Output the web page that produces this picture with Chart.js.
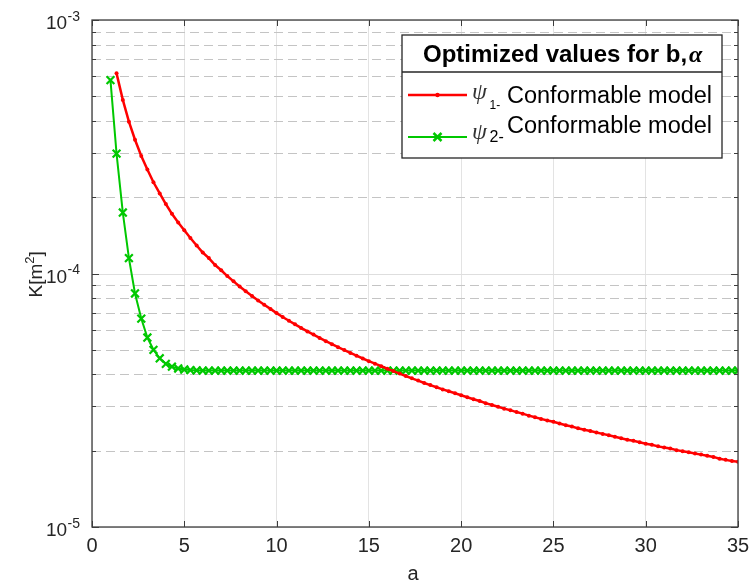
<!DOCTYPE html>
<html>
<head>
<meta charset="utf-8">
<script src="https://cdn.jsdelivr.net/npm/chart.js@4.4.1/dist/chart.umd.min.js"></script>
<style>
  html, body { margin: 0; padding: 0; background: #fff; }
  canvas { display: block; }
</style>
</head>
<body>
<canvas id="kChart" width="750" height="585"></canvas>
<script>
(function () {

// -------------------------------------------------------------------------------------------------------
// data

var aValues = [
    1, 1.33, 1.67, 2, 2.33, 2.67, 3, 3.33, 3.67, 4,
    4.33, 4.67, 5, 5.33, 5.67, 6, 6.33, 6.67, 7, 7.33,
    7.67, 8, 8.33, 8.67, 9, 9.33, 9.67, 10, 10.33, 10.67,
    11, 11.33, 11.67, 12, 12.33, 12.67, 13, 13.33, 13.67, 14,
    14.33, 14.67, 15, 15.33, 15.67, 16, 16.33, 16.67, 17, 17.33,
    17.67, 18, 18.33, 18.67, 19, 19.33, 19.67, 20, 20.33, 20.67,
    21, 21.33, 21.67, 22, 22.33, 22.67, 23, 23.33, 23.67, 24,
    24.33, 24.67, 25, 25.33, 25.67, 26, 26.33, 26.67, 27, 27.33,
    27.67, 28, 28.33, 28.67, 29, 29.33, 29.67, 30, 30.33, 30.67,
    31, 31.33, 31.67, 32, 32.33, 32.67, 33, 33.33, 33.67, 34,
    34.33, 34.67, 35
];

// psi_1 conformable model (starts at a = 1.33)
var psi1Values = [
    null,
    6.16e-4, 4.84e-4, 3.97e-4, 3.37e-4, 2.91e-4, 2.57e-4, 2.29e-4, 2.07e-4, 1.88e-4, 1.72e-4,
    1.59e-4, 1.48e-4, 1.38e-4, 1.29e-4, 1.21e-4, 1.15e-4, 1.08e-4, 1.03e-4, 9.77e-5, 9.31e-5,
    8.89e-5, 8.51e-5, 8.16e-5, 7.83e-5, 7.53e-5, 7.25e-5, 6.98e-5, 6.74e-5, 6.51e-5, 6.30e-5,
    6.10e-5, 5.91e-5, 5.74e-5, 5.57e-5, 5.41e-5, 5.26e-5, 5.12e-5, 4.99e-5, 4.86e-5, 4.74e-5,
    4.62e-5, 4.51e-5, 4.41e-5, 4.31e-5, 4.21e-5, 4.12e-5, 4.03e-5, 3.94e-5, 3.86e-5, 3.78e-5,
    3.70e-5, 3.63e-5, 3.56e-5, 3.49e-5, 3.43e-5, 3.37e-5, 3.31e-5, 3.25e-5, 3.19e-5, 3.14e-5,
    3.08e-5, 3.03e-5, 2.98e-5, 2.93e-5, 2.89e-5, 2.84e-5, 2.80e-5, 2.75e-5, 2.71e-5, 2.67e-5,
    2.63e-5, 2.60e-5, 2.56e-5, 2.52e-5, 2.49e-5, 2.45e-5, 2.42e-5, 2.39e-5, 2.36e-5, 2.33e-5,
    2.30e-5, 2.27e-5, 2.24e-5, 2.21e-5, 2.19e-5, 2.16e-5, 2.13e-5, 2.11e-5, 2.08e-5, 2.06e-5,
    2.04e-5, 2.01e-5, 1.99e-5, 1.97e-5, 1.95e-5, 1.93e-5, 1.91e-5, 1.89e-5, 1.86e-5, 1.84e-5,
    1.82e-5, 1.81e-5
];

// psi_2 conformable model
var psi2Values = [
    5.79e-4, 2.97e-4, 1.74e-4, 1.15e-4, 8.34e-5, 6.64e-5, 5.59e-5, 5.00e-5, 4.63e-5, 4.40e-5,
    4.29e-5, 4.22e-5, 4.18e-5, 4.16e-5, 4.15e-5, 4.14e-5, 4.14e-5, 4.14e-5, 4.14e-5, 4.14e-5,
    4.14e-5, 4.14e-5, 4.14e-5, 4.14e-5, 4.14e-5, 4.14e-5, 4.14e-5, 4.14e-5, 4.14e-5, 4.14e-5,
    4.14e-5, 4.14e-5, 4.14e-5, 4.14e-5, 4.14e-5, 4.14e-5, 4.14e-5, 4.14e-5, 4.14e-5, 4.14e-5,
    4.14e-5, 4.14e-5, 4.14e-5, 4.14e-5, 4.14e-5, 4.14e-5, 4.14e-5, 4.14e-5, 4.14e-5, 4.14e-5,
    4.14e-5, 4.14e-5, 4.14e-5, 4.14e-5, 4.14e-5, 4.14e-5, 4.14e-5, 4.14e-5, 4.14e-5, 4.14e-5,
    4.14e-5, 4.14e-5, 4.14e-5, 4.14e-5, 4.14e-5, 4.14e-5, 4.14e-5, 4.14e-5, 4.14e-5, 4.14e-5,
    4.14e-5, 4.14e-5, 4.14e-5, 4.14e-5, 4.14e-5, 4.14e-5, 4.14e-5, 4.14e-5, 4.14e-5, 4.14e-5,
    4.14e-5, 4.14e-5, 4.14e-5, 4.14e-5, 4.14e-5, 4.14e-5, 4.14e-5, 4.14e-5, 4.14e-5, 4.14e-5,
    4.14e-5, 4.14e-5, 4.14e-5, 4.14e-5, 4.14e-5, 4.14e-5, 4.14e-5, 4.14e-5, 4.14e-5, 4.14e-5,
    4.14e-5, 4.14e-5, 4.14e-5
];

var xTickValues = [0, 5, 10, 15, 20, 25, 30, 35];
var yDecades = [1e-5, 1e-4, 1e-3];
var yDecadeExps = ['-5', '-4', '-3'];
var yMinorSteps = [2, 3, 4, 5, 6, 7, 8, 9];

var legendTitle = 'Optimized values for b,';
var legendTitleSymbol = '\u03B1';
var seriesSymbol = '\u03C8';
var seriesSubs = ['1-', '2-'];
var seriesNames = ['Conformable model', 'Conformable model'];

var RED = '#ff0000';
var GREEN = '#00c800';
var TEXT = '#262626';
var SANS = '"Liberation Sans", Arial, sans-serif';
var SERIF = '"Liberation Serif", "DejaVu Serif", serif';

function toPoints(vals) {
    var pts = [];
    for (var i = 0; i < aValues.length; i++) {
        if (vals[i] !== null) pts.push({ x: aValues[i], y: vals[i] });
    }
    return pts;
}

// -------------------------------------------------------------------------------------------------------
// axes, grid and legend in a matlab-ish style

function line(ctx, x1, y1, x2, y2) {
    ctx.beginPath();
    ctx.moveTo(x1, y1);
    ctx.lineTo(x2, y2);
    ctx.stroke();
}

var matlabAxes = {
    id: 'matlabAxes',

    beforeDatasetsDraw: function (chart) {
        var ctx = chart.ctx, area = chart.chartArea, ys = chart.scales.y;
        ctx.save();
        ctx.lineWidth = 1;
        // minor log grid, dashed
        ctx.strokeStyle = '#c4c4c4';
        ctx.setLineDash([9, 5]);
        yDecades.slice(0, 2).forEach(function (d) {
            yMinorSteps.forEach(function (m) {
                var py = Math.round(ys.getPixelForValue(m * d)) + 0.5;
                line(ctx, area.left, py, area.right, py);
            });
        });
        // decade grid, solid
        ctx.setLineDash([]);
        ctx.strokeStyle = '#dedede';
        yDecades.forEach(function (d) {
            var py = Math.round(ys.getPixelForValue(d)) + 0.5;
            line(ctx, area.left, py, area.right, py);
        });
        ctx.restore();
    },

    afterDatasetsDraw: function (chart) {
        var ctx = chart.ctx, area = chart.chartArea;
        var xs = chart.scales.x, ys = chart.scales.y;
        ctx.save();

        // box
        ctx.strokeStyle = '#3c3c3c';
        ctx.lineWidth = 1.3;
        ctx.strokeRect(area.left, area.top, area.right - area.left, area.bottom - area.top);

        // inward ticks
        ctx.lineWidth = 1;
        xTickValues.forEach(function (v) {
            var px = Math.round(xs.getPixelForValue(v)) + 0.5;
            line(ctx, px, area.bottom, px, area.bottom - 6);
            line(ctx, px, area.top, px, area.top + 6);
        });
        yDecades.forEach(function (d) {
            var py = Math.round(ys.getPixelForValue(d)) + 0.5;
            line(ctx, area.left, py, area.left + 7, py);
            line(ctx, area.right, py, area.right - 7, py);
        });
        yDecades.slice(0, 2).forEach(function (d) {
            yMinorSteps.forEach(function (m) {
                var py = Math.round(ys.getPixelForValue(m * d)) + 0.5;
                line(ctx, area.left, py, area.left + 4, py);
                line(ctx, area.right, py, area.right - 4, py);
            });
        });

        // x tick labels
        ctx.fillStyle = TEXT;
        ctx.textBaseline = 'alphabetic';
        ctx.textAlign = 'center';
        ctx.font = '20px ' + SANS;
        xTickValues.forEach(function (v) {
            ctx.fillText(String(v), xs.getPixelForValue(v), 552);
        });

        // y tick labels 10^n
        ctx.textAlign = 'left';
        yDecades.forEach(function (d, i) {
            var py = ys.getPixelForValue(d);
            ctx.font = '19px ' + SANS;
            ctx.fillText('10', 46, py + 9);
            ctx.font = '14px ' + SANS;
            ctx.fillText(yDecadeExps[i], 67.5, py + 0.5);
        });

        // x title
        ctx.font = '20px ' + SANS;
        ctx.textAlign = 'center';
        ctx.fillText('a', (area.left + area.right) / 2 - 2, 580);

        // y title K[m^2]
        ctx.save();
        ctx.translate(42, (area.top + area.bottom) / 2 + 24);
        ctx.rotate(-Math.PI / 2);
        ctx.textAlign = 'left';
        ctx.font = '19px ' + SANS;
        var w1 = ctx.measureText('K[m').width;
        ctx.fillText('K[m', 0, 0);
        ctx.font = '13px ' + SANS;
        ctx.fillText('2', w1, -8);
        var w2 = ctx.measureText('2').width;
        ctx.font = '19px ' + SANS;
        ctx.fillText(']', w1 + w2, 0);
        ctx.restore();

        ctx.restore();
    },

    afterDraw: function (chart) {
        var ctx = chart.ctx;
        var bx = 402, by = 35, bw = 320, bh = 123;
        ctx.save();
        ctx.fillStyle = '#fff';
        ctx.fillRect(bx, by, bw, bh);
        ctx.strokeStyle = '#262626';
        ctx.lineWidth = 1.3;
        ctx.strokeRect(bx, by, bw, bh);
        line(ctx, bx, 72, bx + bw, 72);

        // title
        ctx.fillStyle = '#000';
        ctx.textAlign = 'left';
        ctx.textBaseline = 'alphabetic';
        ctx.font = 'bold 24px ' + SANS;
        ctx.fillText(legendTitle, 423, 62);
        var tw = ctx.measureText(legendTitle).width;
        ctx.font = 'italic bold 24px ' + SERIF;
        ctx.fillText(legendTitleSymbol, 423 + tw + 2, 62);

        // entries
        var rows = [
            { y: 95, color: RED, symBase: 99, subBase: 109, subSize: 12, nameBase: 103 },
            { y: 137, color: GREEN, symBase: 139, subBase: 142, subSize: 16, nameBase: 133 }
        ];
        rows.forEach(function (r, i) {
            ctx.strokeStyle = r.color;
            ctx.lineWidth = i === 0 ? 2.5 : 2;
            line(ctx, 408, r.y, 467, r.y);
            if (i === 0) {
                ctx.fillStyle = r.color;
                ctx.beginPath();
                ctx.arc(437.5, r.y, 2.2, 0, Math.PI * 2);
                ctx.fill();
            } else {
                ctx.lineWidth = 2.5;
                line(ctx, 433.5, r.y - 4, 441.5, r.y + 4);
                line(ctx, 433.5, r.y + 4, 441.5, r.y - 4);
            }
            ctx.fillStyle = '#333';
            ctx.font = 'italic 24px ' + SERIF;
            ctx.fillText(seriesSymbol, 472, r.symBase);
            ctx.fillStyle = '#000';
            ctx.font = r.subSize + 'px ' + SANS;
            ctx.fillText(seriesSubs[i], 489.5, r.subBase);
            ctx.font = '23.5px ' + SANS;
            ctx.fillText(seriesNames[i], 507, r.nameBase);
        });
        ctx.restore();
    }
};

// -------------------------------------------------------------------------------------------------------

window.k_chart = function (canvasId) {
    try {
        var canvas = document.getElementById(canvasId);
        if (!canvas) return;

        var ctx = canvas.getContext('2d');

        return new Chart(ctx, {
            type: 'line',
            data: {
                datasets: [{
                    label: '\u03C8 1- Conformable model',
                    data: toPoints(psi1Values),
                    borderColor: RED,
                    backgroundColor: RED,
                    borderWidth: 2.5,
                    pointStyle: 'circle',
                    pointRadius: 2,
                    pointBorderWidth: 0,
                    tension: 0
                }, {
                    label: '\u03C8 2- Conformable model',
                    data: toPoints(psi2Values),
                    borderColor: GREEN,
                    backgroundColor: GREEN,
                    borderWidth: 2,
                    pointStyle: 'crossRot',
                    pointRadius: 5.5,
                    pointBorderWidth: 2.2,
                    tension: 0
                }]
            },
            options: {
                responsive: false,
                animation: false,
                devicePixelRatio: 1,
                layout: { padding: { top: 20, right: 12, bottom: 0, left: 0 } },
                plugins: {
                    legend: { display: false },
                    tooltip: { enabled: false }
                },
                scales: {
                    x: {
                        type: 'linear',
                        min: 0,
                        max: 35,
                        afterFit: function (s) { s.height = 58; },
                        grid: { color: '#e3e3e3', lineWidth: 1, drawTicks: false },
                        border: { display: false },
                        ticks: { stepSize: 5, display: false }
                    },
                    y: {
                        type: 'logarithmic',
                        min: 1e-5,
                        max: 1e-3,
                        afterFit: function (s) { s.width = 92; },
                        grid: { display: false },
                        border: { display: false },
                        ticks: { display: false }
                    }
                }
            },
            plugins: [matlabAxes]
        });
    } catch (e) { console.log(e); }
};

window.k_chart('kChart');

})();
</script>
</body>
</html>
